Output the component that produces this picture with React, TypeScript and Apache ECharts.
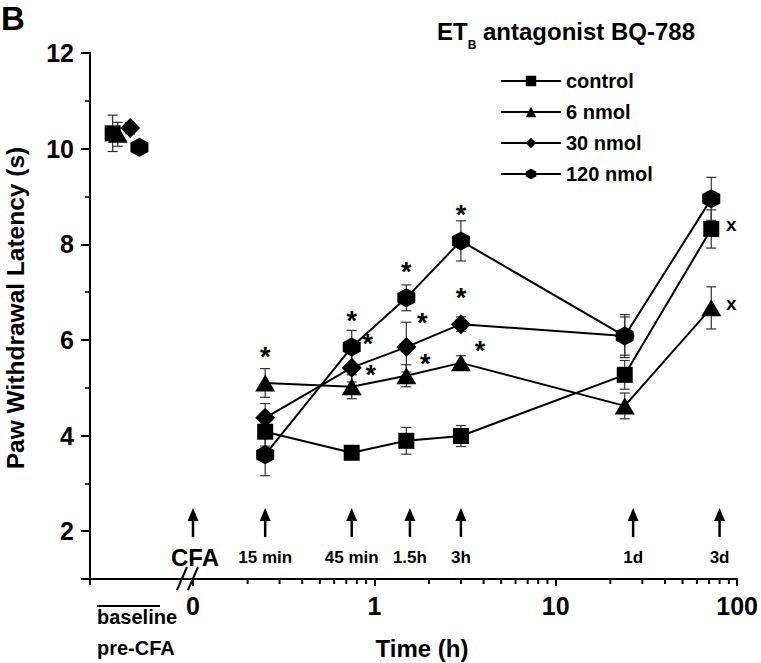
import React, { useEffect, useRef } from 'react';
import * as echarts from 'echarts';

const FONT = '"Liberation Sans", Arial, Helvetica, sans-serif';

// ---- data ----
const times = [0.25, 0.75, 1.5, 3, 24, 72]; // hours after CFA
const seriesNames = ['control', '6 nmol', '30 nmol', '120 nmol'];

const controlMean = [4.08, 3.64, 3.89, 3.99, 5.27, 8.32];
const controlSem = [0.3, 0.1, 0.28, 0.22, 0.3, 0.4];
const nmol6Mean = [5.1, 5.02, 5.25, 5.52, 4.62, 6.67];
const nmol6Sem = [0.3, 0.25, 0.23, 0.15, 0.27, 0.44];
const nmol30Mean = [4.37, 5.42, 5.85, 6.33, 6.08];
const nmol30Sem = [0.3, 0.3, 0.52, 0.15, 0.4];
const nmol120Mean = [3.6, 5.85, 6.88, 8.07, 6.08, 8.95];
const nmol120Sem = [0.44, 0.35, 0.27, 0.42, 0.45, 0.45];

// baseline (pre-CFA) values, one per group
const baselineMean = [10.32, 10.3, 10.43, 10.03];
const baselineSem = [0.38, 0.25, 0.12, 0.08];
const baselineSlot = [0.22, 0.27, 0.39, 0.48];

// significance marks per time point
const controlMarks = ['', '', '', '', '', 'x'];
const nmol6Marks = ['*', '*', '*', '*', '', 'x'];
const nmol30Marks = ['', '*', '*', '*', ''];
const nmol120Marks = ['', '*', '*', '*', '', ''];
const controlMarkSide = ['', '', '', '', '', 'right'];
const nmol6MarkSide = ['top', 'right', 'right', 'right', '', 'right'];
const nmol30MarkSide = ['', 'upright', 'upright', 'top', ''];
const nmol120MarkSide = ['', 'top', 'top', 'top', '', ''];

// injection / measurement arrows
const arrowTimes = [0.1, 0.25, 0.75, 1.57, 3, 26.7, 80];
const arrowLabels = ['CFA', '15 min', '45 min', '1.5h', '3h', '1d', '3d'];

// axis ranges and log minor ticks
const yMin = 1;
const yMax = 12;
const xLogMin = 0.1;
const xLogMax = 100;
const xMinorTicks = [
  0.2, 0.3, 0.4, 0.5, 0.6, 0.7, 0.8, 0.9,
  2, 3, 4, 5, 6, 7, 8, 9,
  20, 30, 40, 50, 60, 70, 80, 90,
];

const HEX = 'path://M0,-10L8.66,-5L8.66,5L0,10L-8.66,5L-8.66,-5Z';
const symbols = ['rect', 'triangle', 'diamond', HEX];
const symbolSizes: any[] = [16, [20, 17], 20, [18, 19]];

const markOffsets: Record<string, number[]> = {
  top: [0, -26],
  right: [19, -12],
  upright: [16, -24],
};

function markLabel(mark: string, side: string) {
  if (!mark) return { show: false };
  const isStar = mark === '*';
  const off = isStar ? markOffsets[side] : [20, -4];
  return {
    show: true,
    position: 'inside',
    formatter: mark,
    offset: off,
    color: '#000',
    fontFamily: FONT,
    fontWeight: 'bold',
    fontSize: isStar ? 27 : 19,
    lineHeight: isStar ? 16 : 19,
    textBorderWidth: 0,
  };
}

function errorBars(xs: number[], ys: number[], es: number[], axisIndex: number) {
  return {
    type: 'custom',
    xAxisIndex: axisIndex,
    yAxisIndex: axisIndex,
    silent: true,
    z: 1,
    encode: { x: 0, y: 1 },
    data: ys.map((y, i) => [xs[i], y, es[i]]),
    renderItem: (params: any, api: any) => {
      const x = api.value(0);
      const y = api.value(1);
      const e = api.value(2);
      const t = api.coord([x, y + e]);
      const b = api.coord([x, y - e]);
      const w = 5;
      const st = { stroke: '#333', lineWidth: 1.2 };
      return {
        type: 'group',
        children: [
          { type: 'line', shape: { x1: t[0], y1: t[1], x2: b[0], y2: b[1] }, style: st },
          { type: 'line', shape: { x1: t[0] - w, y1: t[1], x2: t[0] + w, y2: t[1] }, style: st },
          { type: 'line', shape: { x1: b[0] - w, y1: b[1], x2: b[0] + w, y2: b[1] }, style: st },
        ],
      };
    },
  };
}

const groups = [
  { mean: controlMean, sem: controlSem, marks: controlMarks, side: controlMarkSide },
  { mean: nmol6Mean, sem: nmol6Sem, marks: nmol6Marks, side: nmol6MarkSide },
  { mean: nmol30Mean, sem: nmol30Sem, marks: nmol30Marks, side: nmol30MarkSide },
  { mean: nmol120Mean, sem: nmol120Sem, marks: nmol120Marks, side: nmol120MarkSide },
];

function buildOption() {
  const axisLine = { show: true, lineStyle: { color: '#000', width: 2 } };
  const lineSeries = groups.map((g, k) => ({
    type: 'line',
    name: seriesNames[k],
    xAxisIndex: 1,
    yAxisIndex: 1,
    symbol: symbols[k],
    symbolSize: symbolSizes[k],
    showAllSymbol: true,
    itemStyle: { color: '#000', opacity: 1 },
    lineStyle: { color: '#000', width: 2 },
    emphasis: { disabled: true },
    z: 3,
    data: g.mean.map((v, i) => ({ value: [times[i], v], label: markLabel(g.marks[i], g.side[i]) })),
  }));
  const errSeries = groups.map((g) => errorBars(times, g.mean, g.sem, 1));
  const baseSeries = groups.map((g, k) => ({
    type: 'scatter',
    name: seriesNames[k],
    xAxisIndex: 0,
    yAxisIndex: 0,
    symbol: symbols[k],
    symbolSize: symbolSizes[k],
    itemStyle: { color: '#000', opacity: 1 },
    emphasis: { disabled: true },
    z: 3,
    data: [[baselineSlot[k], baselineMean[k]]],
  }));
  const baseErr = baselineMean.map((m, k) =>
    errorBars([baselineSlot[k]], [m], [baselineSem[k]], 0)
  );

  const minorTickSeries = {
    type: 'custom',
    xAxisIndex: 1,
    yAxisIndex: 1,
    silent: true,
    clip: false,
    z: 5,
    encode: { x: 0, y: 1 },
    data: xMinorTicks.map((v) => [v, yMin]),
    renderItem: (params: any, api: any) => {
      const p = api.coord([api.value(0), api.value(1)]);
      return {
        type: 'rect',
        shape: { x: p[0] - 1, y: p[1], width: 2, height: 5 },
        style: { fill: '#000' },
      };
    },
  };

  const arrowSeries = {
    type: 'custom',
    xAxisIndex: 1,
    yAxisIndex: 1,
    silent: true,
    clip: false,
    encode: { x: 0, y: 1 },
    data: arrowTimes.map((t) => [t, yMin]),
    renderItem: (params: any, api: any) => {
      const p = api.coord([api.value(0), api.value(1)]);
      const x = p[0];
      const bottom = params.coordSys.y + params.coordSys.height;
      const tip = bottom - 71;
      const isCFA = params.dataIndex === 0;
      return {
        type: 'group',
        children: [
          {
            type: 'polygon',
            shape: { points: [[x, tip], [x - 5.5, tip + 13], [x + 5.5, tip + 13]] },
            style: { fill: '#000' },
          },
          {
            type: 'line',
            shape: { x1: x, y1: tip + 10, x2: x, y2: tip + 29 },
            style: { stroke: '#000', lineWidth: 2.5 },
          },
          {
            type: 'text',
            x: x + (isCFA ? 2 : 0),
            y: bottom - 22,
            style: {
              text: arrowLabels[params.dataIndex],
              fill: '#000',
              fontFamily: FONT,
              fontWeight: 'bold',
              fontSize: isCFA ? 24 : 17,
              align: 'center',
              verticalAlign: 'middle',
            },
          },
        ],
      };
    },
  };

  return {
    animation: false,
    backgroundColor: '#fff',
    textStyle: { fontFamily: FONT },
    title: {
      text: '{a|ET}{b|B}{a| antagonist BQ-788}',
      left: 432,
      top: 6,
      textStyle: {
        rich: {
          a: { fontSize: 24, fontWeight: 'bold', fontFamily: FONT, color: '#000', lineHeight: 40 },
          b: { fontSize: 12, fontWeight: 'bold', fontFamily: FONT, color: '#000', verticalAlign: 'bottom', lineHeight: 12 },
        },
      },
    },
    legend: {
      data: seriesNames,
      orient: 'vertical',
      left: 495,
      top: 66,
      itemWidth: 60,
      itemHeight: 13,
      itemGap: 11,
      selectedMode: false,
      textStyle: { fontSize: 20, fontWeight: 'bold', fontFamily: FONT, color: '#000' },
    },
    grid: [
      { left: 90, top: 53, width: 103, bottom: 84 },
      { left: 193, top: 53, right: 19, bottom: 84 },
    ],
    xAxis: [
      {
        type: 'value',
        gridIndex: 0,
        min: 0,
        max: 1,
        interval: 1,
        axisLine,
        axisTick: { show: true, length: 6, lineStyle: { color: '#000', width: 2 } },
        axisLabel: { show: false },
        splitLine: { show: false },
      },
      {
        type: 'log',
        logBase: 10,
        gridIndex: 1,
        min: xLogMin,
        max: xLogMax,
        axisLine,
        axisTick: { show: true, length: 7, lineStyle: { color: '#000', width: 2 } },
        minorTick: { show: false },
        axisLabel: {
          margin: 14,
          fontSize: 25,
          fontWeight: 'bold',
          fontFamily: FONT,
          color: '#000',
          formatter: (v: number) => (v < 0.5 ? '0' : String(Math.round(v))),
        },
        splitLine: { show: false },
        minorSplitLine: { show: false },
      },
    ],
    yAxis: [
      {
        type: 'value',
        gridIndex: 0,
        min: yMin,
        max: yMax,
        axisLine,
        axisTick: { show: true, length: 9, lineStyle: { color: '#000', width: 2 } },
        minorTick: { show: true, splitNumber: 2, length: 5, lineStyle: { color: '#000', width: 1.5 } },
        axisLabel: {
          showMinLabel: false,
          margin: 16,
          fontSize: 25,
          fontWeight: 'bold',
          fontFamily: FONT,
          color: '#000',
        },
        splitLine: { show: false },
        name: 'Paw Withdrawal Latency (s)',
        nameLocation: 'middle',
        nameGap: 62,
        nameTextStyle: {
          fontSize: 24.5,
          fontWeight: 'bold',
          fontFamily: FONT,
          color: '#000',
          padding: [0, 0, 0, 16],
        },
      },
      {
        type: 'value',
        gridIndex: 1,
        min: yMin,
        max: yMax,
        show: false,
        splitLine: { show: false },
      },
    ],
    graphic: [
      {
        type: 'text',
        left: 1,
        top: 2,
        style: { text: 'B', fontSize: 33, fontWeight: 'bold', fontFamily: FONT, fill: '#000' },
      },
      {
        type: 'text',
        x: 422,
        y: 648,
        style: {
          text: 'Time (h)',
          fontSize: 24,
          fontWeight: 'bold',
          fontFamily: FONT,
          fill: '#000',
          align: 'center',
          verticalAlign: 'middle',
        },
      },
      {
        type: 'text',
        x: 97,
        y: 617,
        style: { text: 'baseline', fontSize: 20, fontWeight: 'bold', fontFamily: FONT, fill: '#000', verticalAlign: 'middle' },
      },
      {
        type: 'text',
        x: 97,
        y: 648,
        style: { text: 'pre-CFA', fontSize: 20, fontWeight: 'bold', fontFamily: FONT, fill: '#000', verticalAlign: 'middle' },
      },
      {
        type: 'line',
        shape: { x1: 97, y1: 606, x2: 160, y2: 606 },
        style: { stroke: '#000', lineWidth: 2 },
      },
      {
        type: 'line',
        shape: { x1: 177, y1: 590, x2: 187, y2: 567 },
        style: { stroke: '#000', lineWidth: 2 },
      },
      {
        type: 'line',
        shape: { x1: 188, y1: 590, x2: 198, y2: 567 },
        style: { stroke: '#000', lineWidth: 2 },
      },
    ],
    series: [...errSeries, ...baseErr, ...lineSeries, ...baseSeries, minorTickSeries, arrowSeries],
  };
}

export default function App() {
  const ref = useRef<HTMLDivElement>(null);
  useEffect(() => {
    document.body.style.margin = '0';
    const chart = echarts.init(ref.current as HTMLDivElement, null, { renderer: 'svg' });
    chart.setOption(buildOption() as any);
    return () => chart.dispose();
  }, []);
  return <div ref={ref} style={{ width: 761, height: 663 }} />;
}
